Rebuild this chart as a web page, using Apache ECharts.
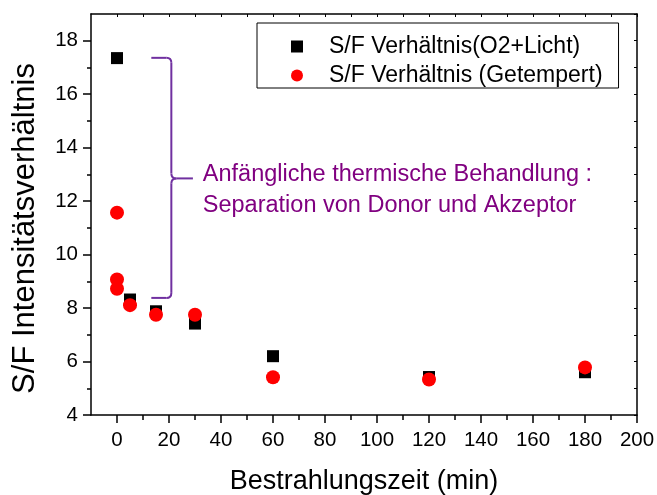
<!DOCTYPE html>
<html><head><meta charset="utf-8">
<script src="https://cdn.jsdelivr.net/npm/echarts@6/dist/echarts.min.js"></script>
<style>html,body{margin:0;padding:0;background:#fff}#c{width:657px;height:495px}</style>
</head><body><div id="c"></div>
<script>
const seriesNames = ['S/F Verhältnis(O2+Licht)', 'S/F Verhältnis (Getempert)'];
const timeO2Licht = [0, 5, 15, 30, 60, 120, 180];
const ratioO2Licht = [17.35, 8.32, 7.88, 7.42, 6.2, 5.42, 5.6];
const timeGetempert = [0, 0, 0, 5, 15, 30, 60, 120, 180];
const ratioGetempert = [11.57, 9.07, 8.72, 8.11, 7.75, 7.75, 5.41, 5.33, 5.78];
const xTicks = [0, 20, 40, 60, 80, 100, 120, 140, 160, 180, 200];
const xMinorTicks = [10, 30, 50, 70, 90, 110, 130, 150, 170, 190];
const yTicks = [4, 6, 8, 10, 12, 14, 16, 18];
const yMinorTicks = [5, 7, 9, 11, 13, 15, 17];
const xTitle = 'Bestrahlungszeit (min)';
const yTitle = 'S/F Intensitätsverhältnis';
const annotationLines = ['Anfängliche thermische Behandlung :', 'Separation von Donor und Akzeptor'];

const FONT = 'Liberation Sans, Arial, sans-serif';
const chart = echarts.init(document.getElementById('c'));
const axisLine = {show: true, onZero: false, lineStyle: {color: '#000', width: 1.5}};
const noLine = {show: false, onZero: false};
const allX = xTicks.concat(xMinorTicks);
const allY = yTicks.concat(yMinorTicks, [19]);

chart.setOption({
  animation: false,
  backgroundColor: '#fff',
  grid: {left: 91, right: 20, top: 14, bottom: 80, containLabel: false, outerBoundsMode: 'none'},
  legend: {
    left: 257, top: 23, orient: 'vertical',
    data: [{name: seriesNames[0], icon: 'rect'}, {name: seriesNames[1], icon: 'circle'}],
    itemWidth: 12, itemHeight: 12, itemGap: 6,
    padding: [12, 16, 1, 34],
    borderColor: '#000', borderWidth: 1, borderRadius: 0,
    textStyle: {fontSize: 23, color: '#000', fontFamily: FONT, padding: [0, 0, 0, 21]}
  },
  xAxis: [
    {type: 'value', min: -10, max: 200, position: 'bottom', axisLine,
     axisTick: {show: true, customValues: xTicks, length: 8, lineStyle: {color: '#000', width: 1.5}},
     axisLabel: {customValues: xTicks, fontSize: 20.5, color: '#000', fontFamily: FONT, margin: 15},
     splitLine: {show: false},
     name: xTitle, nameLocation: 'middle', nameGap: 53,
     nameTextStyle: {fontSize: 27, color: '#000', fontFamily: FONT}},
    {type: 'value', min: -10, max: 200, position: 'bottom', axisLine: noLine,
     axisTick: {show: true, customValues: xMinorTicks, length: 5, lineStyle: {color: '#000', width: 1.5}},
     axisLabel: {show: false}, splitLine: {show: false}},
    {type: 'value', min: -10, max: 200, position: 'top', axisLine,
     axisTick: {show: true, inside: true, customValues: allX, length: 3, lineStyle: {color: '#000', width: 1}},
     axisLabel: {show: false}, splitLine: {show: false}}
  ],
  yAxis: [
    {type: 'value', min: 4, max: 19, position: 'left', axisLine,
     axisTick: {show: true, customValues: yTicks, length: 8, lineStyle: {color: '#000', width: 1.5}},
     axisLabel: {customValues: yTicks, fontSize: 20.5, color: '#000', fontFamily: FONT, margin: 13},
     splitLine: {show: false},
     name: yTitle, nameLocation: 'middle', nameGap: 50,
     nameTextStyle: {fontSize: 31, color: '#000', fontFamily: FONT, padding: [0, 28, 0, 0]}},
    {type: 'value', min: 4, max: 19, position: 'left', axisLine: noLine,
     axisTick: {show: true, customValues: yMinorTicks, length: 4, lineStyle: {color: '#000', width: 1.5}},
     axisLabel: {show: false}, splitLine: {show: false}},
    {type: 'value', min: 4, max: 19, position: 'right', axisLine,
     axisTick: {show: true, inside: true, customValues: allY, length: 3, lineStyle: {color: '#000', width: 1}},
     axisLabel: {show: false}, splitLine: {show: false}}
  ],
  series: [
    {name: seriesNames[0], type: 'scatter', xAxisIndex: 0, yAxisIndex: 0,
     symbol: 'rect', symbolSize: 12,
     itemStyle: {color: '#000', opacity: 1},
     data: timeO2Licht.map((t, i) => [t, ratioO2Licht[i]]), z: 2},
    {name: seriesNames[1], type: 'scatter', xAxisIndex: 0, yAxisIndex: 0,
     symbol: 'circle', symbolSize: 14,
     itemStyle: {color: '#ff0000', opacity: 1},
     data: timeGetempert.map((t, i) => [t, ratioGetempert[i]]), z: 3}
  ]
});

// Annotation (bracket + text) anchored in data coordinates
const P = (x, y) => chart.convertToPixel({seriesIndex: 0}, [x, y]);
const [xl, yt] = P(13.2, 17.36);
const [xv, ym] = P(20.9, 12.85);
const [xt, yb] = P(29.2, 8.38);
const r = 5;
const bs = {stroke: '#7030a0', lineWidth: 2, fill: 'none'};
const seg = (x1, y1, x2, y2) => ({type: 'line', shape: {x1, y1, x2, y2}, style: bs, silent: true});
const crv = (x1, y1, cx, cy, x2, y2) => ({type: 'bezierCurve', shape: {x1, y1, x2, y2, cpx1: cx, cpy1: cy}, style: bs, silent: true});
const [tx, ty] = P(33, 12.42);
chart.setOption({
  graphic: [
    seg(xl, yt, xv - r, yt),
    crv(xv - r, yt, xv, yt, xv, yt + r),
    seg(xv, yt + r, xv, ym - r),
    crv(xv, ym - r, xv, ym, xv + r, ym),
    seg(xv + r, ym, xt, ym),
    crv(xv + r, ym, xv, ym, xv, ym + r),
    seg(xv, ym + r, xv, yb - r),
    crv(xv, yb - r, xv, yb, xv - r, yb),
    seg(xv - r, yb, xl, yb),
    {type: 'text', x: tx, y: ty, silent: true,
     style: {text: annotationLines.join('\n'), fill: '#800080', font: '23.5px ' + FONT,
             lineHeight: 31, verticalAlign: 'middle', align: 'left'}}
  ]
});
</script></body></html>
